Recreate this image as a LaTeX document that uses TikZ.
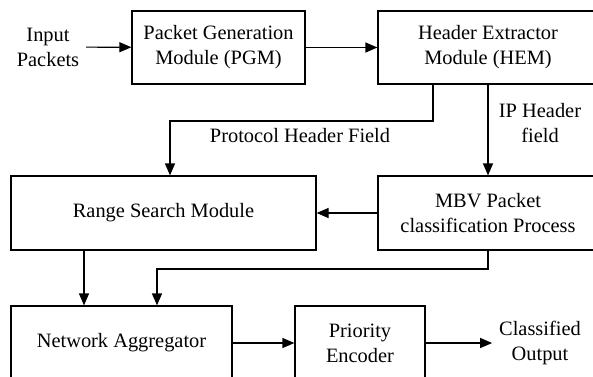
\documentclass[tikz,border=0pt]{standalone}
\usepackage{fontspec}
\setmainfont{Liberation Serif}
\usetikzlibrary{arrows.meta}

\tikzset{
  blok/.style={draw, line width=0.6pt, align=center, minimum height=36.5pt},
  popis/.style={align=center},
  sipka/.style={line width=0.6pt, -{Triangle[length=6pt,width=5pt]}}
}

\begin{document}
\begin{tikzpicture}[x=0.5pt, y=-0.5pt, font=\fontsize{10.2}{12.5}\selectfont]
        \useasboundingbox (0,0) rectangle (593,376);
        \clip (0,0) rectangle (593,376);

        % horni rada
        \node[popis] (in) at (48,47) {Input\\Packets};
        \node[blok, minimum width=86.5pt] (pgm) at (218.5,47.5) {Packet Generation\\Module (PGM)};
        \node[blok, minimum width=110pt] (hem) at (488,47.5) {Header Extractor\\Module (HEM)};

        % prostredni rada
        \node[blok, minimum width=152.5pt, minimum height=37pt] (rsm) at (163.5,213) {Range Search Module};
        \node[blok, minimum width=110pt, minimum height=37pt] (mbv) at (488,213) {MBV Packet\\classification Process};

        % dolni rada
        \node[blok, minimum width=110.5pt, minimum height=37pt] (na) at (121.5,343) {Network Aggregator};
        \node[blok, minimum width=65pt, minimum height=37pt] (pe) at (360,343) {Priority\\Encoder};
        \node[popis] (out) at (540,343) {Classified\\Output};

        % pomocne body
        \coordinate (z1) at (433,121);
        \coordinate (z2) at (157,269);

        % spoje
        \draw[sipka] (in) -- (pgm);
        \draw[sipka] (pgm) -- (hem);
        \draw[sipka] (z1 |- hem.south) -- (z1) -| ([shift={(6.5,0)}]rsm.north);
        \draw[sipka] (hem) -- (mbv);
        \draw[sipka] (mbv) -- (rsm);
        \draw[sipka] ([shift={(-79.5,0)}]rsm.south) -- ([shift={(-37.5,0)}]na.north);
        \draw[sipka] (mbv.south) |- (z2) -- (z2 |- na.north);
        \draw[sipka] (na) -- (pe);
        \draw[sipka] (pe) -- (out);

        % popisky
        \node[popis] (phf) at (300,136) {Protocol Header Field};
        \node[popis] (iph) at (540,123) {IP Header\\field};
\end{tikzpicture}
\end{document}
